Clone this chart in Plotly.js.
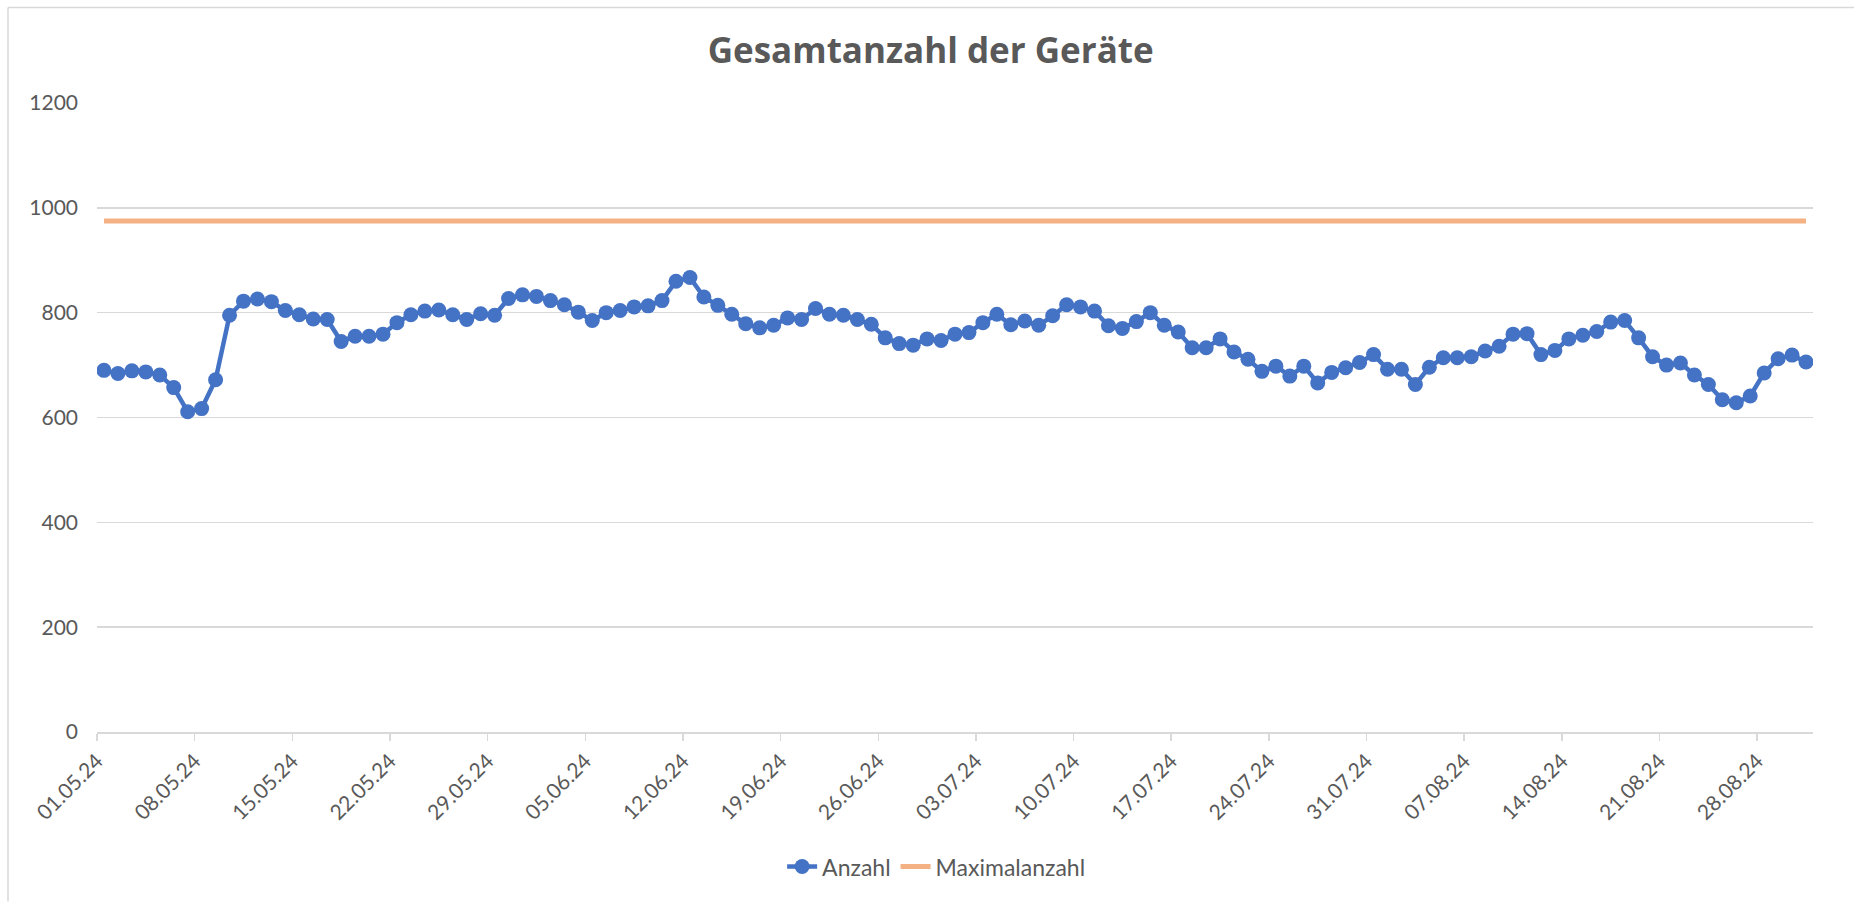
<!DOCTYPE html>
<html>
<head>
<meta charset="utf-8">
<script src="https://cdn.plot.ly/plotly-3.0.1.min.js"></script>
<style>
  html, body { margin: 0; padding: 0; background: #fff; }
  #chart { width: 1854px; height: 902px; }
</style>
</head>
<body>
<div id="chart"></div>
<script>
// Daily device counts 01.05.24 – 31.08.24
const startDate = '2024-05-01';
const anzahl = [
  690,684,689,687,681,657,611,617,672,795,822,826,821,804,796,788,787,745,755,755,759,
  781,796,803,805,796,787,798,795,827,834,831,823,815,801,785,800,804,811,813,823,860,
  867,830,814,797,779,771,776,790,787,808,797,795,787,778,752,741,738,750,747,759,762,
  781,797,777,784,776,794,815,811,803,775,770,783,800,776,763,733,733,750,725,711,
  688,698,679,698,666,686,695,705,720,692,692,663,696,714,714,716,727,736,759,760,720,
  728,750,757,764,782,785,752,716,700,704,681,663,634,628,641,685,712,719,706
];
const maximalanzahl = [975, 975];
const seriesNames = ['Anzahl', 'Maximalanzahl'];
const yTicks = [0, 200, 400, 600, 800, 1000, 1200];

// category dates (points sit in the middle of each day, like Excel's date axis)
function isoDay(offset) {
  const d = new Date(startDate + 'T00:00:00Z');
  d.setUTCDate(d.getUTCDate() + offset);
  return d.toISOString().slice(0, 10);
}
const dates = anzahl.map((_, i) => isoDay(i) + ' 12:00');
const maxDates = [dates[0], dates[dates.length - 1]];
const rangeEnd = isoDay(anzahl.length);

const gray = '#595959';
const grid = '#d9d9d9';

const traces = [
  {
    x: dates, y: anzahl, name: seriesNames[0], type: 'scatter', mode: 'lines+markers',
    line: { color: '#4472C4', width: 4.5 },
    marker: { color: '#4472C4', size: 15 }
  },
  {
    x: maxDates, y: maximalanzahl, name: seriesNames[1], type: 'scatter', mode: 'lines',
    line: { color: '#F4B183', width: 5 }
  }
];

const layout = {
  width: 1854, height: 902,
  paper_bgcolor: '#fff', plot_bgcolor: '#fff',
  margin: { l: 97, r: 41, t: 103, b: 170 },
  font: { family: 'Lato, "Open Sans", sans-serif', color: gray },
  title: {
    text: 'Gesamtanzahl der Geräte',
    font: { family: '"Open Sans", Lato, sans-serif', size: 35, color: gray, weight: 'bold' },
    x: 0.502, xref: 'container', xanchor: 'center',
    y: 1 - 51 / 902, yref: 'container', yanchor: 'middle'
  },
  xaxis: {
    type: 'date',
    range: [startDate, rangeEnd],
    tick0: startDate, dtick: 7 * 24 * 3600 * 1000,
    tickformat: '%d.%m.%y', tickangle: -45,
    ticks: 'outside', ticklen: 7, tickcolor: grid, tickwidth: 1.5,
    showline: true, linecolor: grid, linewidth: 1.5,
    showgrid: false, zeroline: false,
    tickfont: { size: 21, color: gray }
  },
  yaxis: {
    range: [0, 1200], tickvals: yTicks,
    showgrid: true, gridcolor: grid, gridwidth: 1.5,
    showline: false, zeroline: false, ticks: '',
    ticklabelstandoff: 18,
    tickfont: { size: 21, color: gray }
  },
  showlegend: true,
  legend: {
    orientation: 'h', x: 0.489, xanchor: 'center',
    y: (732.3 - 867) / 629.6, yanchor: 'middle',
    font: { size: 23, color: gray }
  },
  shapes: [
    { type: 'line', xref: 'paper', yref: 'paper',
      x0: (8 - 97) / 1716, x1: (8 - 97) / 1716, y0: (732.3 - 902) / 629.6, y1: (732.3 - 7) / 629.6,
      line: { color: grid, width: 1.5 } },
    { type: 'line', xref: 'paper', yref: 'paper',
      x0: (8 - 97) / 1716, x1: (1854 - 97) / 1716, y0: (732.3 - 7) / 629.6, y1: (732.3 - 7) / 629.6,
      line: { color: grid, width: 1.5 } }
  ]
};

Plotly.newPlot('chart', traces, layout, { displayModeBar: false, staticPlot: true });
</script>
</body>
</html>
